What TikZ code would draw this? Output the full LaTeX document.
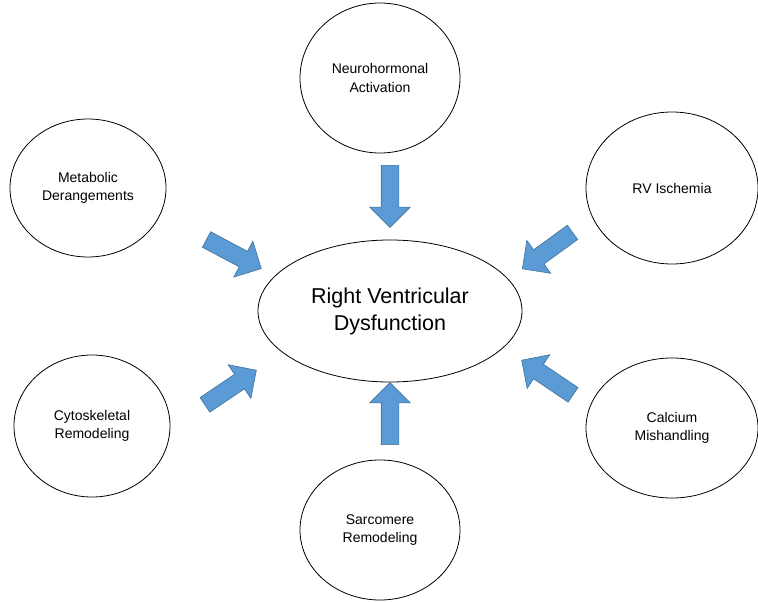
\documentclass[tikz,border=0pt]{standalone}
\usepackage{fontspec}
\setmainfont{Liberation Sans}
\usetikzlibrary{shapes.geometric,shapes.arrows}
\definecolor{arrowfill}{HTML}{5B9BD5}
\definecolor{arrowline}{HTML}{41719C}
\begin{document}
\begin{tikzpicture}[x=1pt,y=-1pt,
  cause/.style={ellipse,draw,line width=0.8pt,inner sep=0pt,align=center,font=\fontsize{14}{18.5}\selectfont},
  block/.style={single arrow,draw=arrowline,fill=arrowfill,line width=0.6pt,minimum height=62pt,inner xsep=0pt,inner ysep=8.5pt,single arrow head extend=11.5pt}]
\useasboundingbox (0,0) rectangle (758,602);
\node[cause,minimum width=264pt,minimum height=142pt,font=\fontsize{21.5}{27}\selectfont] (rvd) at (390,311) {Right Ventricular\\Dysfunction};
\node[cause,minimum width=160pt,minimum height=150pt] (neuro) at (380,78) {Neurohormonal\\Activation};
\node[cause,minimum width=156pt,minimum height=138pt] (meta) at (88,188) {Metabolic\\Derangements};
\node[cause,minimum width=172pt,minimum height=152pt] (isch) at (672,188) {RV Ischemia};
\node[cause,minimum width=156pt,minimum height=142pt] (cyto) at (92,426) {Cytoskeletal\\Remodeling};
\node[cause,minimum width=172pt,minimum height=140pt] (calc) at (672,428) {Calcium\\Mishandling};
\node[cause,minimum width=160pt,minimum height=140pt] (sarc) at (380,530) {Sarcomere\\Remodeling};
\node[block,rotate=-90] (arrN) at (390,192) {};
\node[block,rotate=-28] (arrNW) at (230,252) {};
\node[block,rotate=-144] (arrNE) at (551,248) {};
\node[block,rotate=34] (arrSW) at (227,390) {};
\node[block,rotate=146] (arrSE) at (551,380) {};
\node[block,rotate=90] (arrS) at (390,418) {};
\end{tikzpicture}
\end{document}
